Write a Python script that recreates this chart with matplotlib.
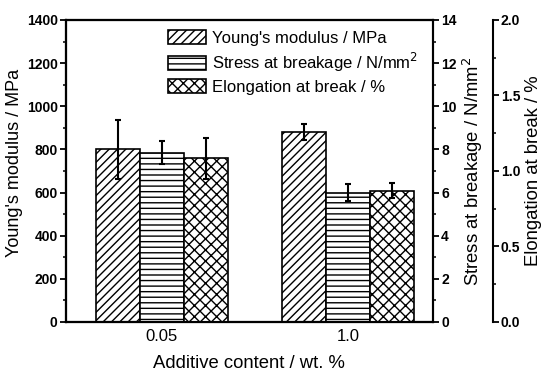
import matplotlib.pyplot as plt
import numpy as np
from matplotlib.ticker import MultipleLocator

plt.rcParams['font.family'] = ['Liberation Sans', 'DejaVu Sans']
plt.rcParams['hatch.linewidth'] = 1.0

# data
groups = ['0.05', '1.0']
modulus = [800, 880]          # MPa
modulus_err = [137, 37]
stress = [7.85, 6.0]          # N/mm2
stress_err = [0.52, 0.40]
elongation = [1.085, 0.87]    # %
elongation_err = [0.135, 0.048]

labels = ["Young's modulus / MPa",
          "Stress at breakage / N/mm$^2$",
          "Elongation at break / %"]

fig = plt.figure(figsize=(5.5, 3.77), dpi=100)
ax = fig.add_axes([0.12, 0.146, 0.667, 0.801])
ax2 = ax.twinx()
ax3 = ax.twinx()
ax3.spines['right'].set_position(('axes', 1.163))

x = np.arange(len(groups))
w = 0.236
err_kw = {'ecolor': 'black', 'elinewidth': 1.5, 'capthick': 1.5}

b1 = ax.bar(x - w, modulus, w, yerr=modulus_err, color='white', edgecolor='black',
            hatch='////', linewidth=1.2, capsize=2.5, error_kw=err_kw, label=labels[0])
b2 = ax2.bar(x, stress, w, yerr=stress_err, color='white', edgecolor='black',
             hatch='---', linewidth=1.2, capsize=2.5, error_kw=err_kw, label=labels[1])
b3 = ax3.bar(x + w, elongation, w, yerr=elongation_err, color='white', edgecolor='black',
             hatch='xxx', linewidth=1.2, capsize=2.5, error_kw=err_kw, label=labels[2])

ax.set_xlim(-0.515, 1.453)
ax.set_ylim(0, 1400)
ax2.set_ylim(0, 14)
ax3.set_ylim(0, 2.0)

ax.set_xticks(x)
ax.set_xticklabels(groups, fontsize=12)
ax.tick_params(axis='x', length=0, pad=5)
ax.set_xlabel('Additive content / wt. %', fontsize=13.3, labelpad=8)

ax.yaxis.set_major_locator(MultipleLocator(200))
ax.yaxis.set_minor_locator(MultipleLocator(100))
ax2.yaxis.set_major_locator(MultipleLocator(2))
ax2.yaxis.set_minor_locator(MultipleLocator(1))
ax3.yaxis.set_major_locator(MultipleLocator(0.5))
ax3.yaxis.set_minor_locator(MultipleLocator(0.25))
ax3.yaxis.set_major_formatter(plt.FormatStrFormatter('%.1f'))

for a in (ax, ax2, ax3):
    a.tick_params(axis='y', which='major', length=4, width=1.3, direction='out',
                  labelsize=10, pad=2)
    a.tick_params(axis='y', which='minor', length=2.5, width=1.1, direction='out')
    for lab in a.get_yticklabels():
        lab.set_fontweight('bold')
    for s in a.spines.values():
        s.set_linewidth(1.5)

ax.set_ylabel(labels[0], fontsize=13, labelpad=3)
ax.yaxis.set_label_coords(-0.118, 0.525)
ax2.set_ylabel(labels[1], fontsize=13.3, labelpad=3)
ax3.set_ylabel(labels[2], fontsize=13.3, labelpad=3)

ax3.legend([b1, b2, b3], labels, loc='upper left', bbox_to_anchor=(0.26, 0.99),
           frameon=False, fontsize=12, handlelength=2.3, handleheight=0.95,
           labelspacing=0.3, handletextpad=0.36, borderaxespad=0.2, borderpad=0.2)

fig.savefig('out.png', dpi=100, facecolor='white')
